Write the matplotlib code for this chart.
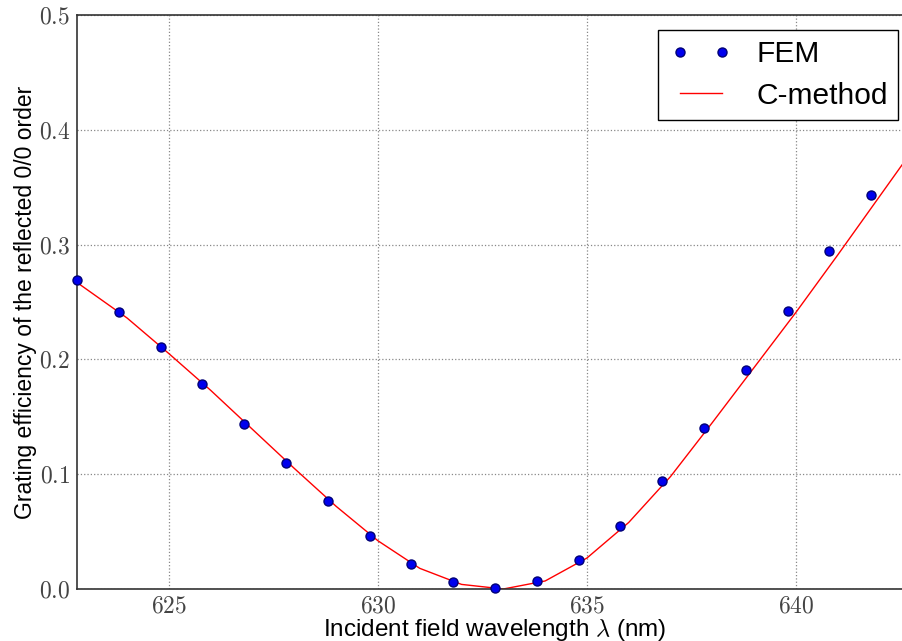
import matplotlib
matplotlib.use("Agg")
import matplotlib.pyplot as plt
from matplotlib.legend_handler import HandlerLine2D
import numpy as np

# FEM samples (nm, efficiency)
fem_wl = [622.8, 623.8, 624.8, 625.8, 626.8, 627.8, 628.8, 629.8, 630.8, 631.8,
          632.8, 633.8, 634.8, 635.8, 636.8, 637.8, 638.8, 639.8, 640.8, 641.8]
fem_eff = [0.269, 0.241, 0.211, 0.179, 0.144, 0.110, 0.077, 0.046, 0.022, 0.006,
           0.001, 0.007, 0.025, 0.055, 0.094, 0.140, 0.191, 0.242, 0.294, 0.343]

# C-method curve
cm_wl = [622.8, 624, 625, 626, 627, 628, 629, 630, 631, 632, 633,
         634, 635, 636, 637, 638, 639, 640, 641, 642, 643]
cm_eff = [0.267, 0.236, 0.205, 0.173, 0.139, 0.105, 0.072, 0.042, 0.018, 0.004, 0.0,
          0.007, 0.027, 0.058, 0.098, 0.145, 0.193, 0.241, 0.291, 0.342, 0.393]

xticks = [625, 630, 635, 640]
yticks = [0.0, 0.1, 0.2, 0.3, 0.4, 0.5]

plt.rcParams['mathtext.fontset'] = 'cm'
plt.rcParams['font.family'] = ['Liberation Sans', 'DejaVu Sans']

fig = plt.figure(figsize=(9.02, 6.41), dpi=100)
# axes run a little past the right edge of the figure (right spine cropped)
ax = fig.add_axes([77/902, 1 - 589/641, 836/902, 574/641])

fem, = ax.plot(fem_wl, fem_eff, 'o', color='#0000ee', markeredgecolor='#000077',
               markersize=6.5, label='FEM', zorder=3, clip_on=False)
cm, = ax.plot(cm_wl, cm_eff, '-', color='red', lw=1, label='C-method', zorder=2)

ax.set_xlim(622.8, 642.8)
ax.set_ylim(0, 0.5)
ax.set_xticks(xticks)
ax.set_xticklabels(['$%d$' % t for t in xticks], fontsize=17, color='#444444')
ax.set_yticks(yticks)
ax.set_yticklabels(['$%.1f$' % t for t in yticks], fontsize=17, color='#444444')
ax.tick_params(direction='in', length=0, pad=5)

ax.grid(True, linestyle=':', color='#888888', lw=0.9)
for s in ax.spines.values():
    s.set_linewidth(1.2)
    s.set_color('#333333')

ax.set_xlabel(r'Incident field wavelength $\lambda$ (nm)', fontsize=17.5, labelpad=-1)
ax.set_ylabel('Grating efficiency of the reflected 0/0 order', fontsize=16.5, labelpad=1.5)

hm = {fem: HandlerLine2D(marker_pad=0.37), cm: HandlerLine2D(marker_pad=0.37)}
leg = ax.legend(loc='upper right', numpoints=2, fontsize=21.5, fancybox=False,
                framealpha=1, edgecolor='black', handlelength=2.15,
                borderaxespad=0.5, labelspacing=0.45, handletextpad=0.78,
                borderpad=0.35, handler_map=hm)
leg.get_frame().set_linewidth(1.0)

fig.savefig('out.png', dpi=100)
